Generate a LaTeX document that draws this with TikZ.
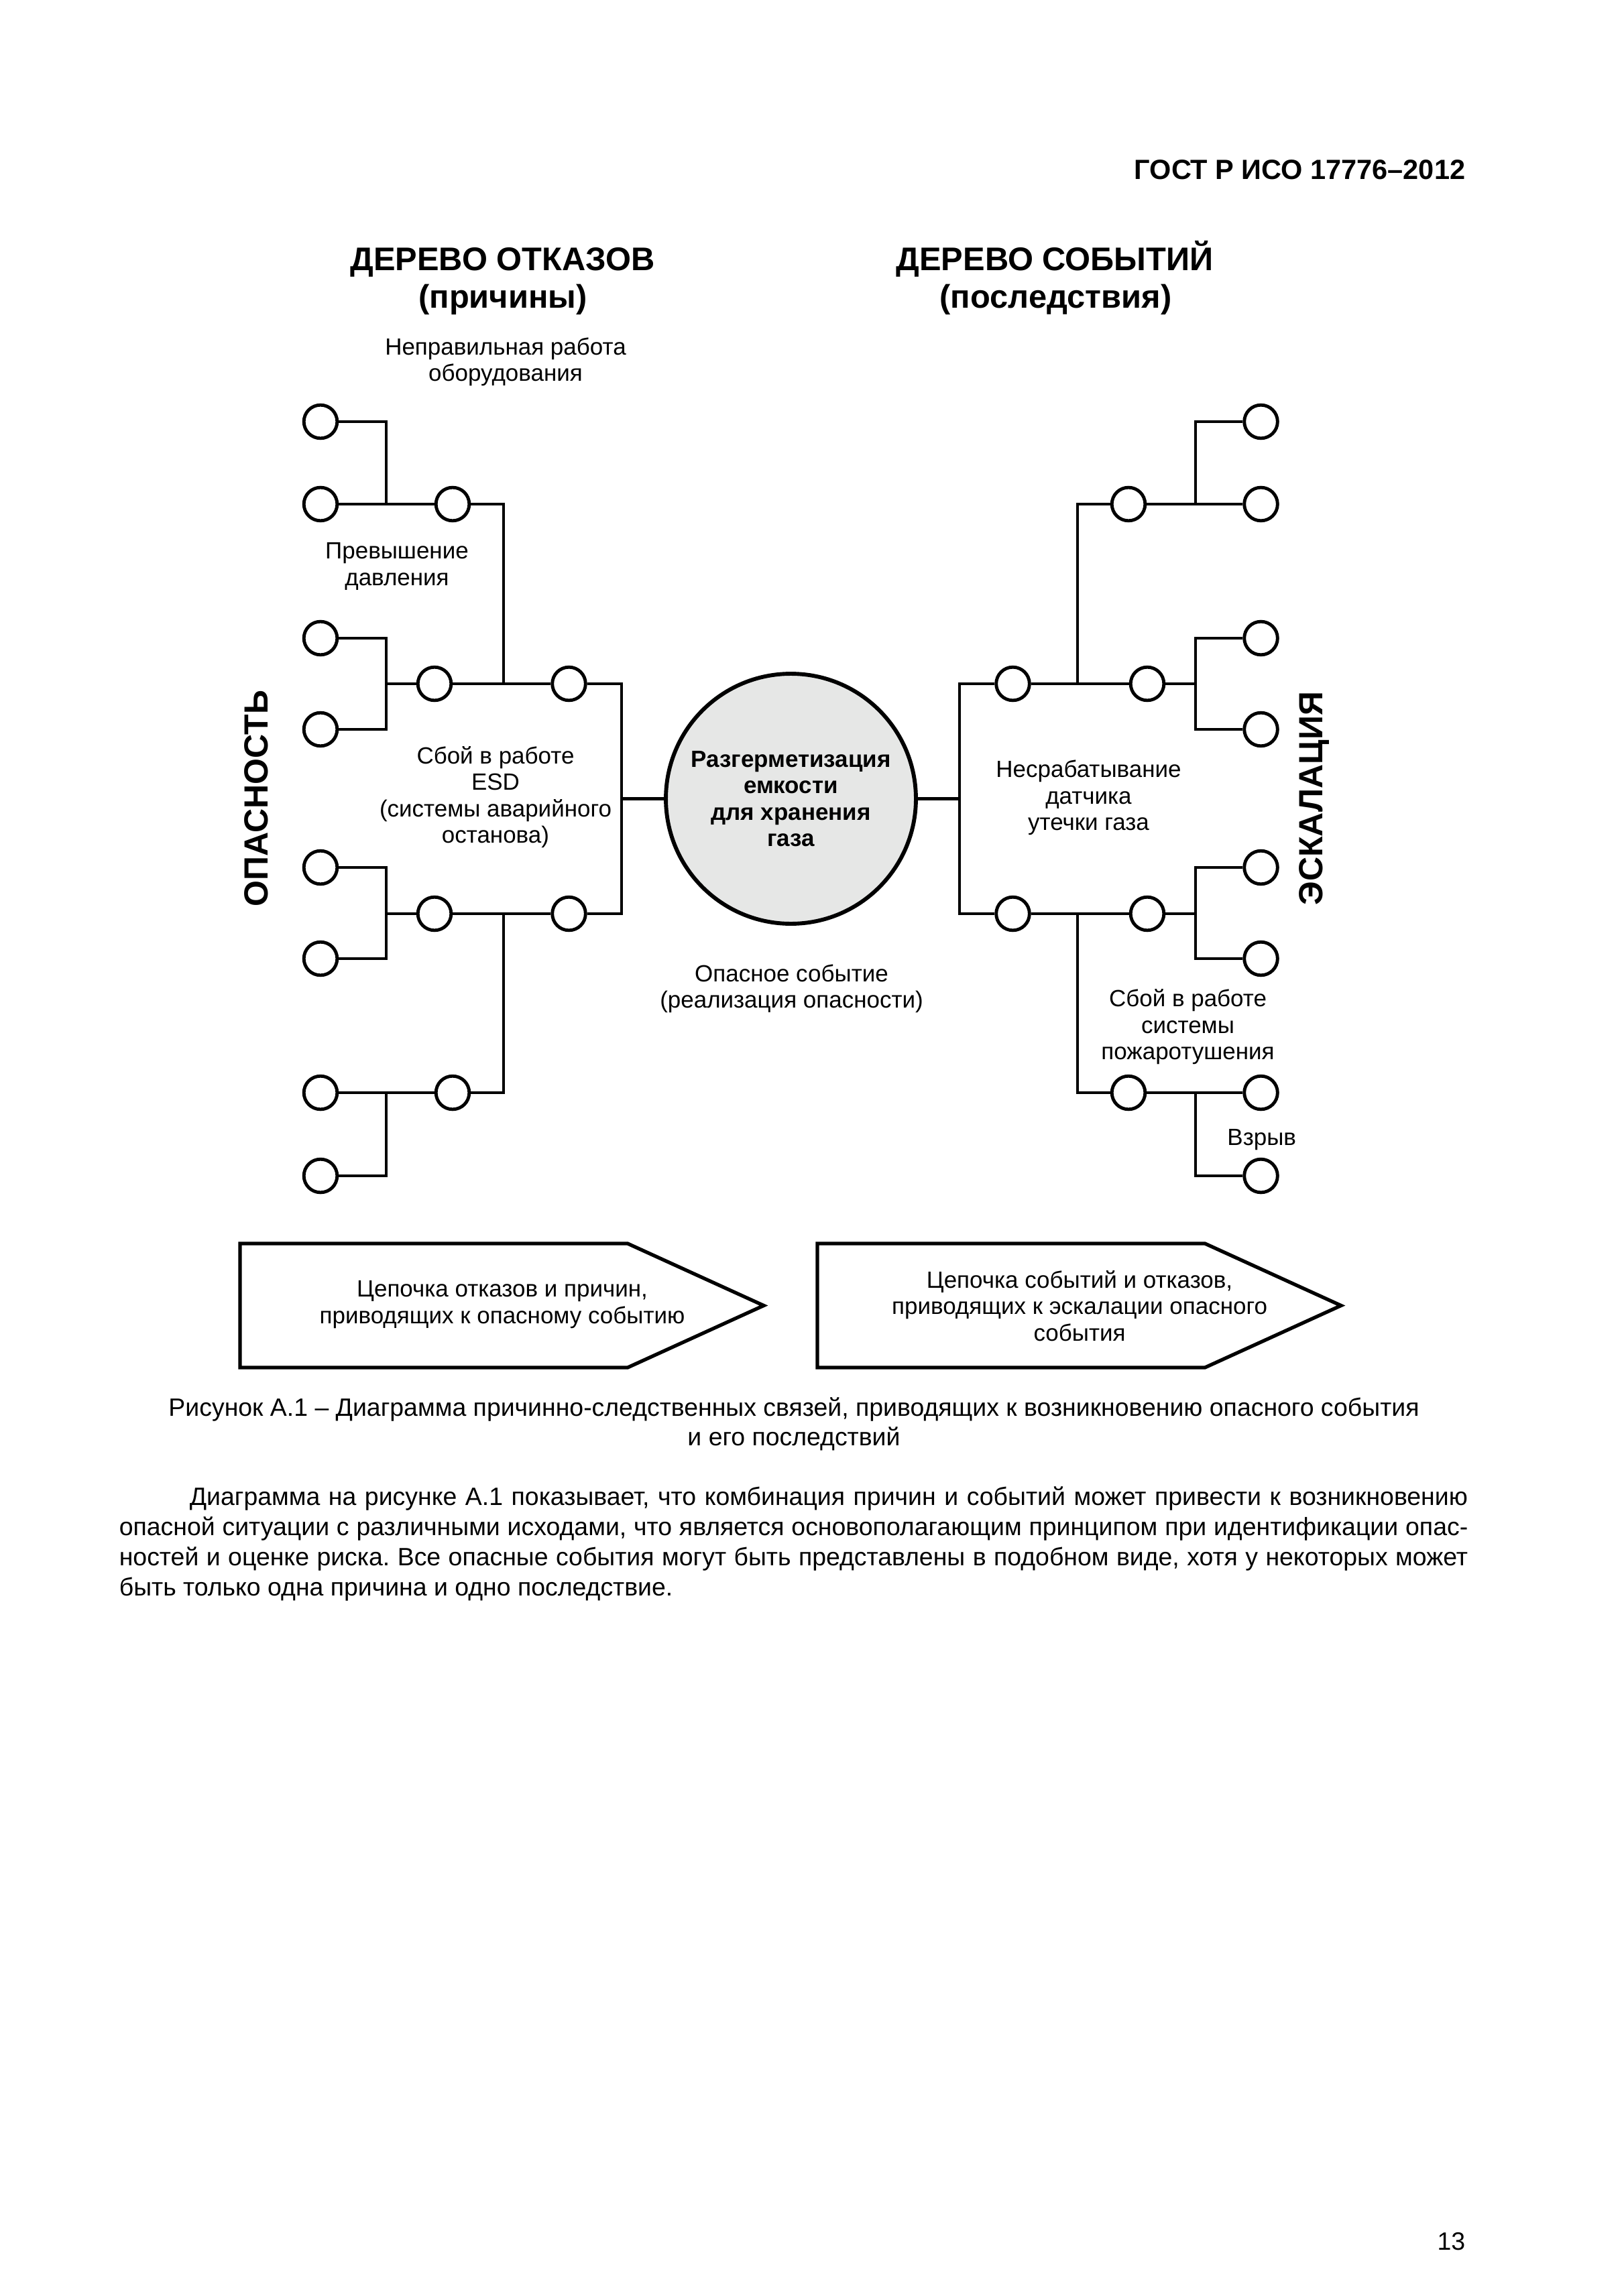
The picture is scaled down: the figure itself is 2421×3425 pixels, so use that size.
\documentclass[tikz,border=0pt]{standalone}
\usepackage{fontspec}
\setmainfont{Liberation Sans}
\frenchspacing
\definecolor{evgray}{RGB}{230,231,230}
\begin{document}
\begin{tikzpicture}[x=0.24588pt,y=-0.24588pt,
  cc/.style={circle,draw,line width=1.2pt,minimum size=12.2pt,inner sep=0pt},
  ln/.style={line width=1.18pt},
  lab/.style={font=\fontsize{8.6}{9.7}\selectfont,align=center,inner sep=0pt},
  ttl/.style={font=\bfseries\fontsize{12}{14.3}\selectfont,inner sep=0pt},
  vert/.style={font=\bfseries\fontsize{12.3}{14}\selectfont,rotate=90,inner sep=0pt},
  chain/.style={line width=1.3pt,line join=miter},
  txt/.style={font=\fontsize{9.2}{11.06}\selectfont,inner sep=0pt},
]
\fill[white] (0,0) rectangle (2421,3425);
\useasboundingbox (0,0) rectangle (2421,3425);

% header
\node[font=\bfseries\fontsize{10.2}{12}\selectfont,inner sep=0pt,anchor=base east] (hdr) at (2186,268) {ГОСТ Р ИСО 17776–2012};

% titles
\node[ttl,anchor=base] (t1a) at (749.5,404) {ДЕРЕВО ОТКАЗОВ};
\node[ttl,anchor=base] (t1b) at (750,460) {(причины)};
\node[ttl,anchor=base] (t2a) at (1573,404) {ДЕРЕВО СОБЫТИЙ};
\node[ttl,anchor=base] (t2b) at (1574.5,460) {(последствия)};

% central event
\node[circle,draw,line width=1.45pt,fill=evgray,minimum size=91.7pt,inner sep=0pt,
  font=\bfseries\fontsize{8.6}{9.7}\selectfont,align=center] (ev) at (1179.5,1191.5)
  {Разгерметизация\\емкости\\для хранения\\газа};

% left tree circles
\node[cc] (a1) at (478,629) {};
\node[cc] (a2) at (478,752) {};
\node[cc] (a3) at (675,752) {};
\node[cc] (a4) at (478,952) {};
\node[cc] (a5) at (478,1088) {};
\node[cc] (a6) at (648,1020) {};
\node[cc] (a7) at (848.5,1020) {};
\node[cc] (a8) at (478,1294) {};
\node[cc] (a9) at (478,1430) {};
\node[cc] (a10) at (648,1363) {};
\node[cc] (a11) at (848.5,1363) {};
\node[cc] (a12) at (478,1630) {};
\node[cc] (a13) at (675,1630) {};
\node[cc] (a14) at (478,1754) {};

% right tree circles
\node[cc] (b1) at (1510.5,1020) {};
\node[cc] (b2) at (1711,1020) {};
\node[cc] (b3) at (1880.5,952) {};
\node[cc] (b4) at (1880.5,1088) {};
\node[cc] (b5) at (1683,752) {};
\node[cc] (b6) at (1880.5,752) {};
\node[cc] (b7) at (1880.5,629) {};
\node[cc] (b8) at (1510.5,1363) {};
\node[cc] (b9) at (1711,1363) {};
\node[cc] (b10) at (1880.5,1294) {};
\node[cc] (b11) at (1880.5,1430) {};
\node[cc] (b12) at (1683,1630) {};
\node[cc] (b13) at (1880.5,1630) {};
\node[cc] (b14) at (1880.5,1754) {};

% junction coordinates
\coordinate (j1) at (576,752);
\coordinate (j3) at (751,1020);
\coordinate (j4) at (576,1020);
\coordinate (j7) at (927,1191.5);
\coordinate (j8) at (576,1363);
\coordinate (j13) at (751,1363);
\coordinate (j12) at (576,1630);
\coordinate (k0) at (1431,1191.5);
\coordinate (k2) at (1783,1020);
\coordinate (k5) at (1607,1020);
\coordinate (k6) at (1783,752);
\coordinate (k9) at (1783,1363);
\coordinate (k12) at (1607,1363);
\coordinate (k13) at (1783,1630);

% left connectors
\draw[ln] (a1.east) -| (j1);
\draw[ln] (a2.east) -- (a3.west);
\draw[ln] (a3.east) -| (j3);
\draw[ln] (a4.east) -| (j4) |- (a5.east);
\draw[ln] (j4) -- (a6.west);
\draw[ln] (a6.east) -- (a7.west);
\draw[ln] (a7.east) -| (j7) |- (a11.east);
\draw[ln] (j7) -- (ev.west);
\draw[ln] (a8.east) -| (j8) |- (a9.east);
\draw[ln] (j8) -- (a10.west);
\draw[ln] (a10.east) -- (a11.west);
\draw[ln] (a13.east) -| (j13);
\draw[ln] (a12.east) -- (a13.west);
\draw[ln] (a14.east) -| (j12);

% right connectors
\draw[ln] (ev.east) -- (k0);
\draw[ln] (b1.west) -| (k0) |- (b8.west);
\draw[ln] (b1.east) -- (b2.west);
\draw[ln] (b2.east) -- (k2);
\draw[ln] (b3.west) -| (k2) |- (b4.west);
\draw[ln] (b5.west) -| (k5);
\draw[ln] (b5.east) -- (b6.west);
\draw[ln] (b7.west) -| (k6);
\draw[ln] (b8.east) -- (b9.west);
\draw[ln] (b9.east) -- (k9);
\draw[ln] (b10.west) -| (k9) |- (b11.west);
\draw[ln] (b12.west) -| (k12);
\draw[ln] (b12.east) -- (b13.west);
\draw[ln] (b14.west) -| (k13);

% labels
\node[lab] (l1) at (754,540) {Неправильная работа\\оборудования};
\node[lab] (l2) at (592,845) {Превышение\\давления};
\node[lab] (l3) at (739,1189) {Сбой в работе\\ESD\\(системы аварийного\\останова)};
\node[lab] (l4) at (1623.5,1190) {Несрабатывание\\датчика\\утечки газа};
\node[lab] (l5) at (1180.5,1475) {Опасное событие\\(реализация опасности)};
\node[lab] (l6) at (1771.5,1532) {Сбой в работе\\системы\\пожаротушения};
\node[lab] (l7) at (1881.7,1700) {Взрыв};

% side labels
\node[vert] (haz) at (382,1191) {ОПАСНОСТЬ};
\node[vert] (esc) at (1960,1191) {ЭСКАЛАЦИЯ};

% chain arrows
\draw[chain] (358,1855) -- (936,1855) -- (1139,1947.5) -- (936,2040) -- (358,2040) -- cycle;
\draw[chain] (1219,1855) -- (1797,1855) -- (2000,1947.5) -- (1797,2040) -- (1219,2040) -- cycle;
\node[lab] (ar1) at (749,1946) {Цепочка отказов и причин,\\приводящих к опасному событию};
\node[lab] (ar2) at (1610,1948) {Цепочка событий и отказов,\\приводящих к эскалации опасного\\события};

% caption
\node[txt,anchor=base] (cap1) at (1184,2112) {Рисунок А.1 – Диаграмма причинно-следственных связей, приводящих к возникновению опасного события};
\node[txt,anchor=base] (cap2) at (1184,2156) {и его последствий};

% body text
\node[txt,anchor=base west] (p1) at (282,2245) {\makebox[468.6pt][s]{Диаграмма на рисунке А.1 показывает, что комбинация причин и событий может привести к возникновению}};
\node[txt,anchor=base west] (p2) at (177,2290) {\makebox[494.5pt][s]{опасной ситуации с различными исходами, что является основополагающим принципом при идентификации опас-}};
\node[txt,anchor=base west] (p3) at (177,2335) {\makebox[494.5pt][s]{ностей и оценке риска. Все опасные события могут быть представлены в подобном виде, хотя у некоторых может}};
\node[txt,anchor=base west] (p4) at (177,2380) {быть только одна причина и одно последствие.};

% page number
\node[txt,anchor=base east] (pg) at (2186,3356) {13};
\end{tikzpicture}
\end{document}
